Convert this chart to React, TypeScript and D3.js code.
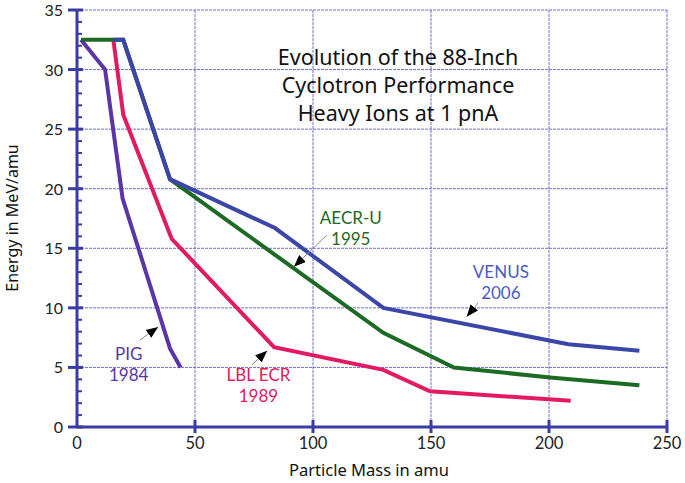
import React, { useEffect, useRef } from "react";
import * as d3 from "d3";

// mass (amu) / energy (MeV/amu)
const pigMass = [1.7, 11.9, 19.3, 39.4, 43.9];
const pigEnergy = [32.5, 30.0, 19.2, 6.6, 5.0];

const lblMass = [15.4, 19.6, 40.1, 83.5, 129.8, 149.6, 209.2];
const lblEnergy = [32.5, 26.2, 15.8, 6.7, 4.8, 3.0, 2.2];

const aecrMass = [1.7, 19.6, 39.4, 129.8, 159.7, 200.4, 238.3];
const aecrEnergy = [32.5, 32.5, 20.8, 7.9, 5.0, 4.15, 3.5];

const venusMass = [15.4, 19.6, 39.4, 83.9, 129.8, 208.2, 238.3];
const venusEnergy = [32.5, 32.5, 20.8, 16.7, 10.0, 6.95, 6.4];

const xTicks = [0, 50, 100, 150, 200, 250];
const yTicks = [0, 5, 10, 15, 20, 25, 30, 35];
const titleLines = ["Evolution of the 88-Inch", "Cyclotron Performance", "Heavy Ions at 1 pnA"];

const series = [
  { name: "PIG", year: "1984", mass: pigMass, energy: pigEnergy, color: "#5b35a8", text: "#5b35a8", label: [21.9, 5.62], arrowFrom: [26.7, 7.3], arrowTo: [34.4, 8.4] },
  { name: "LBL ECR", year: "1989", mass: lblMass, energy: lblEnergy, color: "#e21a62", text: "#e21a62", label: [76.9, 3.86], arrowFrom: [74.0, 5.2], arrowTo: [80.6, 6.4] },
  { name: "AECR-U", year: "1995", mass: aecrMass, energy: aecrEnergy, color: "#1d6a24", text: "#1d6a24", label: [116.0, 17.04], arrowFrom: [105.8, 16.1], arrowTo: [91.9, 13.45] },
  { name: "VENUS", year: "2006", mass: venusMass, energy: venusEnergy, color: "#3b46a8", text: "#4a5cc0", label: [179.6, 12.48], arrowFrom: [170.0, 10.43], arrowTo: [165.1, 9.26] },
];

export default function App() {
  const ref = useRef<SVGSVGElement>(null);

  useEffect(() => {
    const svg = d3.select(ref.current);
    svg.selectAll("*").remove();

    const margin = { top: 10, right: 18, bottom: 56, left: 77 };
    const width = 685 - margin.left - margin.right;
    const height = 483 - margin.top - margin.bottom;
    const font = "'Noto Sans', sans-serif";
    const labelFont = "Lato, sans-serif";
    const axisColor = "#3a3ca6";

    const x = d3.scaleLinear().domain([0, 250]).range([0, width]);
    const y = d3.scaleLinear().domain([0, 35]).range([height, 0]);

    svg
      .append("defs")
      .append("marker")
      .attr("id", "head")
      .attr("viewBox", "0 0 10 10")
      .attr("refX", 10)
      .attr("refY", 5)
      .attr("markerWidth", 12)
      .attr("markerHeight", 12)
      .attr("markerUnits", "userSpaceOnUse")
      .attr("orient", "auto")
      .append("path")
      .attr("d", "M0,1 L10,5 L0,9 Z")
      .attr("fill", "#000");

    const g = svg.append("g").attr("transform", "translate(" + margin.left + "," + margin.top + ")");

    // grid
    g.append("g")
      .selectAll("line")
      .data(xTicks.slice(1))
      .join("line")
      .attr("x1", (d) => x(d))
      .attr("x2", (d) => x(d))
      .attr("y1", 0)
      .attr("y2", height)
      .attr("stroke", "#6f6fd8")
      .attr("stroke-width", 1)
      .attr("stroke-dasharray", "3,1");
    g.append("g")
      .selectAll("line")
      .data(yTicks.slice(1))
      .join("line")
      .attr("x1", 0)
      .attr("x2", width)
      .attr("y1", (d) => y(d))
      .attr("y2", (d) => y(d))
      .attr("stroke", "#6f6fd8")
      .attr("stroke-width", 1)
      .attr("stroke-dasharray", "3,1");

    // y axis
    const yAxis = g.append("g");
    yAxis.append("line").attr("x1", 0).attr("x2", 0).attr("y1", 0).attr("y2", height).attr("stroke", axisColor).attr("stroke-width", 3);
    yAxis
      .selectAll(".minor")
      .data(d3.range(0, 36))
      .join("line")
      .attr("x1", 0)
      .attr("x2", 5)
      .attr("y1", (d) => y(d))
      .attr("y2", (d) => y(d))
      .attr("stroke", axisColor)
      .attr("stroke-width", 2);
    yAxis
      .selectAll(".major")
      .data(yTicks)
      .join("line")
      .attr("x1", -9)
      .attr("x2", 6)
      .attr("y1", (d) => y(d))
      .attr("y2", (d) => y(d))
      .attr("stroke", axisColor)
      .attr("stroke-width", 3);
    yAxis
      .selectAll("text")
      .data(yTicks)
      .join("text")
      .attr("x", -14)
      .attr("y", (d) => y(d) + 6)
      .attr("text-anchor", "end")
      .attr("font-family", labelFont)
      .attr("font-size", 16)
      .attr("fill", "#222")
      .text((d) => d);

    // x axis
    const xAxis = g.append("g").attr("transform", "translate(0," + height + ")");
    xAxis.append("line").attr("x1", 0).attr("x2", width).attr("stroke", axisColor).attr("stroke-width", 3);
    xAxis
      .selectAll("line.t")
      .data(xTicks.slice(1))
      .join("line")
      .attr("x1", (d) => x(d))
      .attr("x2", (d) => x(d))
      .attr("y1", -7)
      .attr("y2", 6)
      .attr("stroke", axisColor)
      .attr("stroke-width", 3);
    xAxis
      .selectAll("text")
      .data(xTicks)
      .join("text")
      .attr("x", (d) => x(d))
      .attr("y", 22)
      .attr("text-anchor", "middle")
      .attr("font-family", labelFont)
      .attr("font-size", 16.5)
      .attr("fill", "#222")
      .text((d) => d);

    // axis titles
    svg
      .append("text")
      .attr("x", 369)
      .attr("y", 476)
      .attr("text-anchor", "middle")
      .attr("font-family", font)
      .attr("font-size", 16.5)
      .attr("fill", "#111")
      .text("Particle Mass in amu");
    svg
      .append("text")
      .attr("transform", "translate(18,218) rotate(-90)")
      .attr("text-anchor", "middle")
      .attr("font-family", font)
      .attr("font-size", 16)
      .attr("fill", "#111")
      .text("Energy in MeV/amu");

    // title
    svg
      .append("g")
      .selectAll("text")
      .data(titleLines)
      .join("text")
      .attr("x", 398)
      .attr("y", (d, i) => 65 + i * 28)
      .attr("text-anchor", "middle")
      .attr("font-family", font)
      .attr("font-size", 21.5)
      .attr("fill", "#111")
      .text((d) => d);

    const line = d3
      .line<[number, number]>()
      .x((d) => x(d[0]))
      .y((d) => y(d[1]));

    series.forEach((s) => {
      const pts = s.mass.map((m, i) => [m, s.energy[i]] as [number, number]);
      g.append("path")
        .datum(pts)
        .attr("fill", "none")
        .attr("stroke", s.color)
        .attr("stroke-width", 4)
        .attr("stroke-linejoin", "miter")
        .attr("d", line);
    });

    series.forEach((s) => {
      g.append("line")
        .attr("x1", x(s.arrowFrom[0]))
        .attr("y1", y(s.arrowFrom[1]))
        .attr("x2", x(s.arrowTo[0]))
        .attr("y2", y(s.arrowTo[1]))
        .attr("stroke", "#888")
        .attr("stroke-width", 1)
        .attr("marker-end", "url(#head)");
      [s.name, s.year].forEach((txt, i) => {
        g.append("text")
          .attr("x", x(s.label[0]))
          .attr("y", y(s.label[1]) + i * 21)
          .attr("text-anchor", "middle")
          .attr("font-family", labelFont)
          .attr("font-size", 17)
          .attr("fill", s.text)
          .text(txt);
      });
    });
  }, []);

  return (
    <svg
      ref={ref}
      width={685}
      height={483}
      style={{ position: "absolute", left: 0, top: 0, background: "#fff" }}
    />
  );
}
